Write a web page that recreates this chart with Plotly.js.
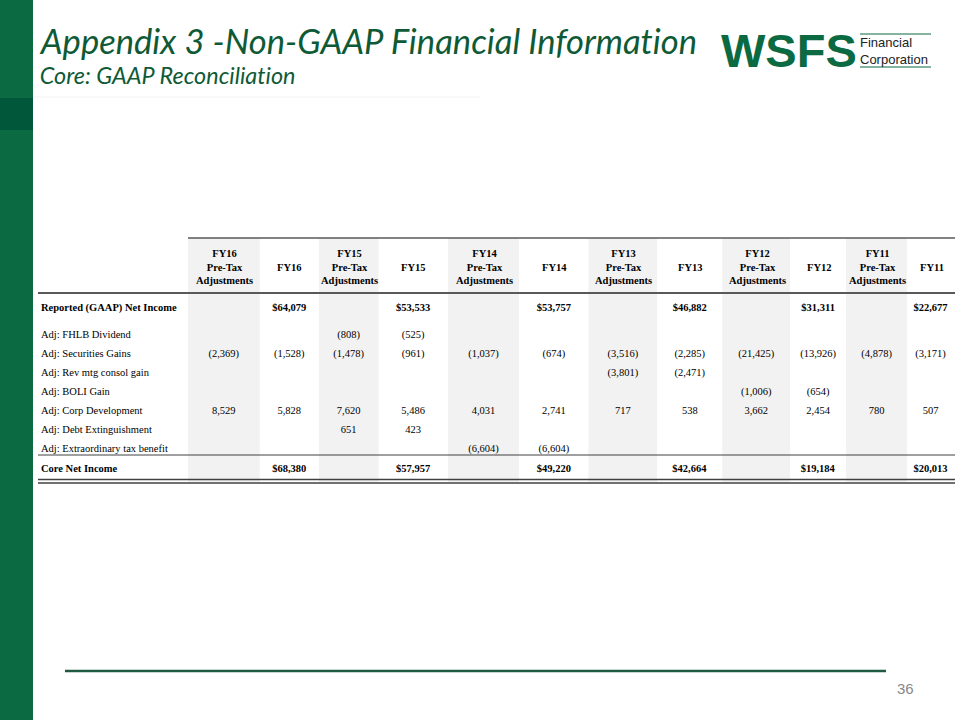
<!DOCTYPE html>
<html>
<head>
<meta charset="utf-8">
<script src="https://cdn.plot.ly/plotly-3.0.1.min.js"></script>
<style>
  html, body { margin: 0; padding: 0; background: #fff; }
  #chart { width: 960px; height: 720px; }
  #chart text, #chart tspan { font-variant-ligatures: none !important; font-feature-settings: "liga" 0, "clig" 0 !important; }
</style>
</head>
<body>
<div id="chart"></div>
<script>
// Строки таблицы
const rowLabels = [
    'Reported (GAAP) Net Income',
    'Adj: FHLB Dividend',
    'Adj: Securities Gains',
    'Adj: Rev mtg consol gain',
    'Adj: BOLI Gain',
    'Adj: Corp Development',
    'Adj: Debt Extinguishment',
    'Adj: Extraordinary tax benefit',
    'Core Net Income'
];
const boldRows = [0, 8];

const columnHeaders = [
    'FY16<br>Pre-Tax<br>Adjustments', 'FY16',
    'FY15<br>Pre-Tax<br>Adjustments', 'FY15',
    'FY14<br>Pre-Tax<br>Adjustments', 'FY14',
    'FY13<br>Pre-Tax<br>Adjustments', 'FY13',
    'FY12<br>Pre-Tax<br>Adjustments', 'FY12',
    'FY11<br>Pre-Tax<br>Adjustments', 'FY11'
];

// Значения по колонкам (null = пусто)
const fy16Pre = [null, null, -2369, null, null, 8529, null, null, null];
const fy16    = [64079, null, -1528, null, null, 5828, null, null, 68380];
const fy15Pre = [null, -808, -1478, null, null, 7620, 651, null, null];
const fy15    = [53533, -525, -961, null, null, 5486, 423, null, 57957];
const fy14Pre = [null, null, -1037, null, null, 4031, null, -6604, null];
const fy14    = [53757, null, -674, null, null, 2741, null, -6604, 49220];
const fy13Pre = [null, null, -3516, -3801, null, 717, null, null, null];
const fy13    = [46882, null, -2285, -2471, null, 538, null, null, 42664];
const fy12Pre = [null, null, -21425, null, -1006, 3662, null, null, null];
const fy12    = [31311, null, -13926, null, -654, 2454, null, null, 19184];
const fy11Pre = [null, null, -4878, null, null, 780, null, null, null];
const fy11    = [22677, null, -3171, null, null, 507, null, null, 20013];

const valueColumns = [fy16Pre, fy16, fy15Pre, fy15, fy14Pre, fy14, fy13Pre, fy13, fy12Pre, fy12, fy11Pre, fy11];

function fmt(v, row) {
    if (v === null) return '';
    const s = Math.abs(v).toLocaleString('en-US');
    if (boldRows.includes(row)) return '<b>$' + s + '</b>';
    return v < 0 ? '(' + s + ')' : s;
}

// неразрывные пробелы, чтобы таблица не переносила подписи
const labelCol = rowLabels.map((l, i) => {
    const t = l.replace(/ /g, '\u00a0');
    return boldRows.includes(i) ? '<b>' + t + '</b>' : t;
});
const cellValues = [labelCol].concat(valueColumns.map(col => col.map((v, i) => fmt(v, i))));

const shade = '#f2f2f2';
const colFills = ['#ffffff'].concat(columnHeaders.map((h, i) => i % 2 === 0 ? shade : '#ffffff'));

const tableLeft = 33, tableRight = 955;
const colWidths = [155, 72, 59, 60, 69, 72, 69, 69, 65, 68, 56, 61, 47];

const data = [{
    type: 'table',
    domain: { x: [tableLeft / 960, tableRight / 960], y: [1 - 500 / 720, 1 - 238 / 720] },
    columnwidth: colWidths,
    header: {
        values: colWidths.map(() => ''),
        height: 56,
        fill: { color: colFills },
        line: { width: 0, color: 'rgba(0,0,0,0)' }
    },
    cells: {
        values: cellValues,
        align: ['left'].concat(columnHeaders.map(() => 'center')),
        height: 19,
        fill: { color: colFills },
        line: { width: 0, color: 'rgba(0,0,0,0)' },
        font: { family: 'Liberation Serif', size: 10.5, color: '#000' }
    }
}];

const green = '#0b6a41';
function py(p) { return 1 - p / 720; }
function px(p) { return p / 960; }

const shapes = [
    // Левая полоса
    { type: 'rect', xref: 'paper', yref: 'paper', x0: 0, x1: px(33), y0: 0, y1: 1, fillcolor: green, line: { width: 0 }, layer: 'below' },
    { type: 'rect', xref: 'paper', yref: 'paper', x0: 0, x1: px(33), y0: py(130), y1: py(98), fillcolor: '#00573a', line: { width: 0 }, layer: 'below' },
    // Тонкая линия под заголовком
    { type: 'line', xref: 'paper', yref: 'paper', x0: px(33), x1: px(480), y0: py(97), y1: py(97), line: { color: '#f2f2f2', width: 1 } },
    // Линии таблицы
    { type: 'line', xref: 'paper', yref: 'paper', x0: px(188), x1: px(955), y0: py(238), y1: py(238), line: { color: '#595959', width: 1.5 } },
    { type: 'line', xref: 'paper', yref: 'paper', x0: px(38), x1: px(955), y0: py(293), y1: py(293), line: { color: '#595959', width: 2 } },
    { type: 'line', xref: 'paper', yref: 'paper', x0: px(38), x1: px(955), y0: py(455), y1: py(455), line: { color: '#404040', width: 1 } },
    { type: 'line', xref: 'paper', yref: 'paper', x0: px(38), x1: px(955), y0: py(479.5), y1: py(479.5), line: { color: '#404040', width: 1.5 } },
    { type: 'line', xref: 'paper', yref: 'paper', x0: px(38), x1: px(955), y0: py(483), y1: py(483), line: { color: '#404040', width: 1.5 } },
    // Логотип: линии
    { type: 'line', xref: 'paper', yref: 'paper', x0: px(860), x1: px(931), y0: py(34), y1: py(34), line: { color: green, width: 1 } },
    { type: 'line', xref: 'paper', yref: 'paper', x0: px(860), x1: px(931), y0: py(67), y1: py(67), line: { color: green, width: 1 } },
    // Нижняя линия
    { type: 'line', xref: 'paper', yref: 'paper', x0: px(65), x1: px(886), y0: py(671), y1: py(671), line: { color: '#1d5a3f', width: 2.5 } }
];

const annotations = [
    { text: 'Appendix 3 -Non-GAAP Financial Information', xref: 'paper', yref: 'paper', x: px(37), y: py(40), xanchor: 'left', yanchor: 'middle', showarrow: false,
      font: { family: 'Lato', size: 34.6, color: '#0f5a36', style: 'italic' } },
    { text: 'Core: GAAP Reconciliation', xref: 'paper', yref: 'paper', x: px(38), y: py(75), xanchor: 'left', yanchor: 'middle', showarrow: false,
      font: { family: 'Lato', size: 23.4, color: '#0f5a36', style: 'italic' } },
    { text: '<b>WSFS</b>', xref: 'paper', yref: 'paper', x: px(719), y: py(51), xanchor: 'left', yanchor: 'middle', showarrow: false,
      font: { family: 'Liberation Sans', size: 47, color: green, weight: 900 } },
    { text: 'Financial<br>Corporation', xref: 'paper', yref: 'paper', x: px(858), y: py(51), xanchor: 'left', yanchor: 'middle', align: 'left', showarrow: false,
      font: { family: 'Liberation Sans', size: 13, color: '#222' } },
    { text: '36', xref: 'paper', yref: 'paper', x: px(916), y: py(688), xanchor: 'right', yanchor: 'middle', showarrow: false,
      font: { family: 'Liberation Sans', size: 15, color: '#888' } }
];

// Заголовки колонок: центры считаются из ширин колонок
let edge = tableLeft + colWidths[0];
columnHeaders.forEach((h, i) => {
    const w = colWidths[i + 1];
    annotations.push({
        text: '<b>' + h + '</b>', xref: 'paper', yref: 'paper', x: px(edge + w / 2), y: py(267),
        xanchor: 'center', yanchor: 'middle', align: 'center', showarrow: false,
        font: { family: 'Liberation Serif', size: 10.5, color: '#000' }
    });
    edge += w;
});

const layout = {
    width: 960,
    height: 720,
    margin: { l: 0, r: 0, t: 0, b: 0 },
    paper_bgcolor: '#ffffff',
    plot_bgcolor: '#ffffff',
    showlegend: false,
    shapes: shapes,
    annotations: annotations
};

Plotly.newPlot('chart', data, layout, { displayModeBar: false, staticPlot: true });
</script>
</body>
</html>
